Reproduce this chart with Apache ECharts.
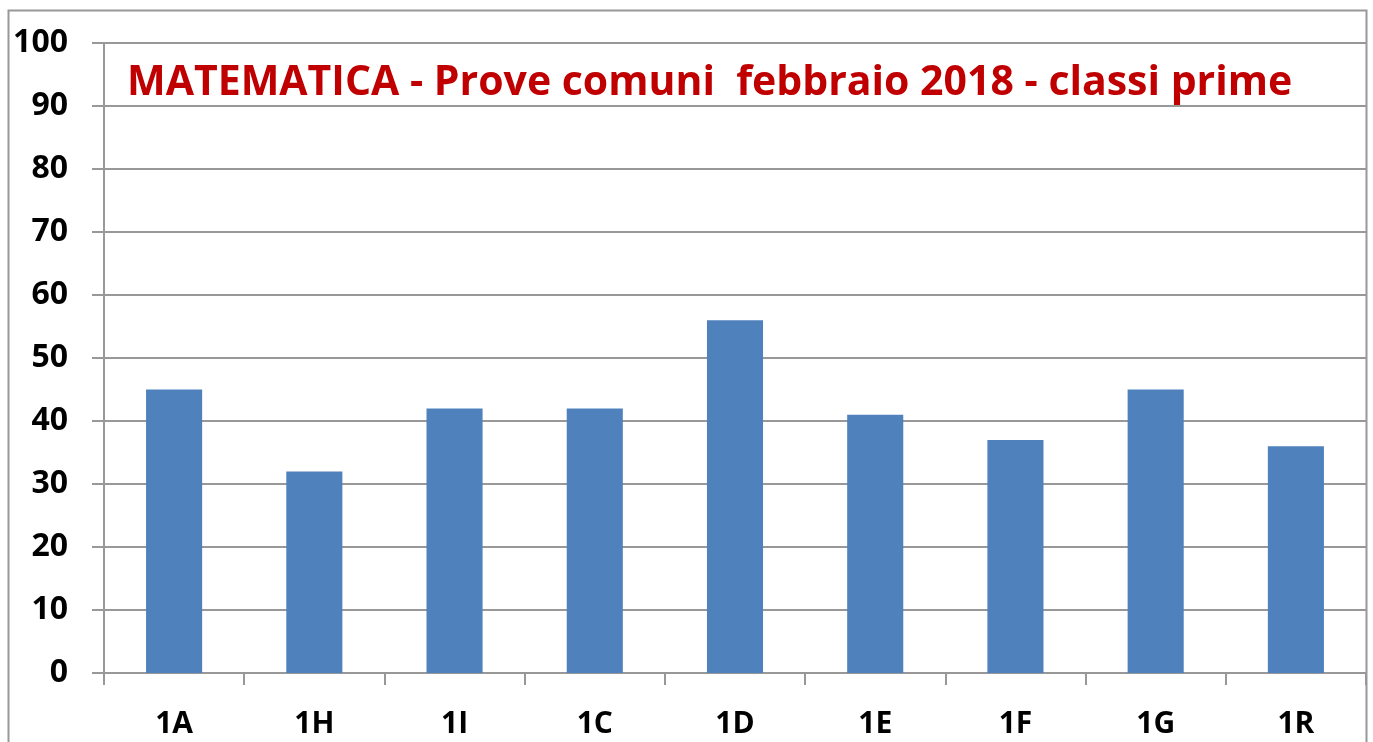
<!DOCTYPE html>
<html>
<head>
<meta charset="utf-8">
<script src="https://cdn.jsdelivr.net/npm/echarts@6/dist/echarts.min.js"></script>
<style>
  html, body { margin: 0; padding: 0; background: #fff; }
  #chart { width: 1373px; height: 742px; }
</style>
</head>
<body>
<div id="chart"></div>
<script>
// classi e punteggi medi
const classes = ['1A', '1H', '1I', '1C', '1D', '1E', '1F', '1G', '1R']
const scores = [45, 32, 42, 42, 56, 41, 37, 45, 36]
const titleText = 'MATEMATICA - Prove comuni  febbraio 2018 - classi prime'

const chart = echarts.init(document.getElementById('chart'))
const gray = '#989898'

chart.setOption({
  animation: false,
  title: {
    text: titleText,
    left: 122,
    top: 58,
    textStyle: {
      color: '#c00000',
      fontFamily: 'Open Sans',
      fontWeight: 'bold',
      fontSize: 41
    }
  },
  graphic: [{
    type: 'rect',
    shape: { x: 8.5, y: 10.5, width: 1358, height: 760 },
    style: { fill: 'none', stroke: gray, lineWidth: 2 },
    z: -1
  }],
  grid: { left: 104, right: 7, top: 43, bottom: 69, containLabel: false },
  xAxis: {
    type: 'category',
    data: classes,
    boundaryGap: true,
    axisLine: { lineStyle: { color: gray, width: 2 } },
    axisTick: { show: true, length: 12, alignWithLabel: false, lineStyle: { color: gray, width: 2 } },
    axisLabel: { color: '#000', fontFamily: 'Open Sans', fontWeight: 'bold', fontSize: 30, margin: 36 }
  },
  yAxis: {
    type: 'value',
    min: 0,
    max: 100,
    interval: 10,
    axisLine: { show: true, lineStyle: { color: gray, width: 2 } },
    axisTick: { show: true, length: 12, lineStyle: { color: gray, width: 2 } },
    axisLabel: { color: '#000', fontFamily: 'Open Sans', fontWeight: 'bold', fontSize: 32, margin: 36 },
    splitLine: { lineStyle: { color: gray, width: 2 } }
  },
  series: [{
    type: 'bar',
    data: scores,
    barWidth: '40%',
    itemStyle: { color: '#4f81bd' }
  }]
})
</script>
</body>
</html>
